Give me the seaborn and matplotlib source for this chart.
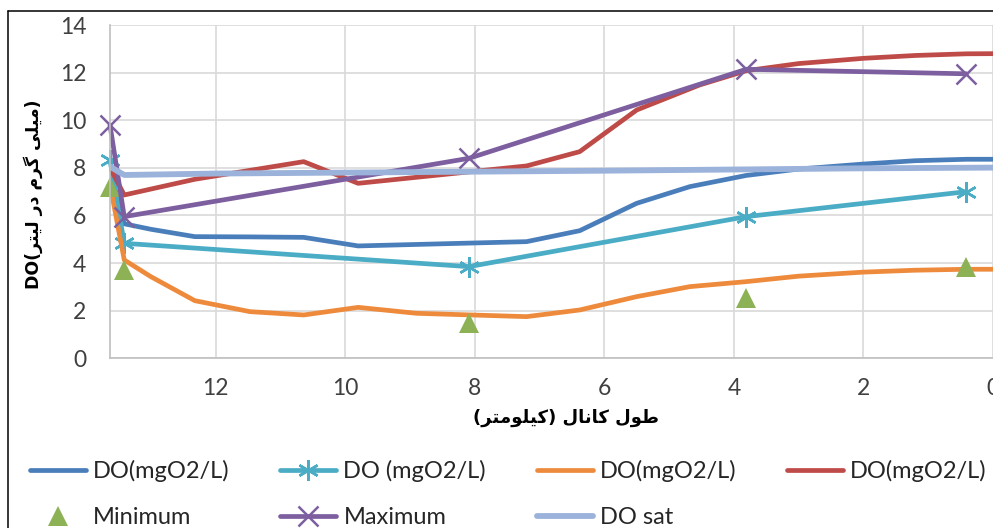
import matplotlib
matplotlib.use("Agg")
import matplotlib.pyplot as plt
from matplotlib.lines import Line2D
import seaborn as sns

# ---- data: distance along the canal (km) and dissolved oxygen (mg O2/L) ----
blue_km = [13.63, 13.41, 13.0, 12.32, 11.47, 10.64, 9.80, 7.20, 6.38, 5.50, 4.68, 3.81, 3.0, 2.0, 1.2, 0.41, -0.3]
blue_do = [7.9, 5.65, 5.42, 5.11, 5.10, 5.08, 4.72, 4.90, 5.36, 6.51, 7.21, 7.68, 7.95, 8.16, 8.30, 8.36, 8.36]

cyan_km = [13.63, 13.41, 8.09, 3.81, 0.41]
cyan_do = [8.33, 4.83, 3.85, 5.95, 7.00]

orange_km = [13.63, 13.41, 13.0, 12.32, 11.47, 10.64, 9.80, 8.9, 7.20, 6.38, 5.50, 4.68, 3.81, 3.0, 2.0, 1.2, 0.41, -0.3]
orange_do = [7.3, 4.13, 3.43, 2.42, 1.96, 1.82, 2.14, 1.89, 1.75, 2.03, 2.59, 3.01, 3.22, 3.45, 3.62, 3.70, 3.74, 3.74]

red_km = [13.63, 13.41, 12.32, 10.64, 9.80, 7.20, 6.38, 5.50, 4.53, 3.81, 3.0, 2.0, 1.2, 0.41, -0.3]
red_do = [8.0, 6.86, 7.52, 8.26, 7.35, 8.08, 8.68, 10.43, 11.48, 12.08, 12.38, 12.60, 12.72, 12.79, 12.80]

min_km = [13.63, 13.41, 8.09, 3.81, 0.41]
min_do = [7.2, 3.7, 1.5, 2.55, 3.83]

max_km = [13.63, 13.41, 8.09, 3.81, 0.41]
max_do = [9.8, 5.95, 8.40, 12.14, 11.95]

sat_km = [13.63, 13.41, 12.0, 10.0, 8.0, 6.0, 4.0, 2.0, 0.0, -0.3]
sat_do = [8.05, 7.70, 7.76, 7.80, 7.84, 7.88, 7.93, 7.98, 8.01, 8.02]

series_labels = ["DO(mgO2/L)", "DO (mgO2/L)", "DO(mgO2/L)", "DO(mgO2/L)",
                 "Minimum", "Maximum", "DO sat"]
x_ticks = [12, 10, 8, 6, 4, 2, 0]
y_ticks = [0, 2, 4, 6, 8, 10, 12, 14]


# ---- simple Persian shaping (contextual forms + visual order) ----
FORMS = {
    "ط": ("\uFEC1", "\uFEC2", "\uFEC3", "\uFEC4"),
    "و": ("\uFEED", "\uFEEE", None, None),
    "ل": ("\uFEDD", "\uFEDE", "\uFEDF", "\uFEE0"),
    "ک": ("\uFB8E", "\uFB8F", "\uFB90", "\uFB91"),
    "ا": ("\uFE8D", "\uFE8E", None, None),
    "ن": ("\uFEE5", "\uFEE6", "\uFEE7", "\uFEE8"),
    "ی": ("\uFBFC", "\uFBFD", "\uFBFE", "\uFBFF"),
    "م": ("\uFEE1", "\uFEE2", "\uFEE3", "\uFEE4"),
    "ت": ("\uFE95", "\uFE96", "\uFE97", "\uFE98"),
    "ر": ("\uFEAD", "\uFEAE", None, None),
    "گ": ("\uFB92", "\uFB93", "\uFB94", "\uFB95"),
    "د": ("\uFEA9", "\uFEAA", None, None),
}


def shape_fa(text):
    out = []
    for i, ch in enumerate(text):
        if ch not in FORMS:
            out.append(ch)
            continue
        prev = text[i - 1] if i > 0 else None
        nxt = text[i + 1] if i + 1 < len(text) else None
        jp = prev in FORMS and FORMS[prev][2] is not None
        jn = nxt in FORMS and FORMS[ch][2] is not None
        iso, fin, ini, med = FORMS[ch]
        if jp and jn:
            out.append(med)
        elif jp:
            out.append(fin)
        elif jn:
            out.append(ini)
        else:
            out.append(iso)
    vis = "".join(reversed(out))
    return vis.translate(str.maketrans("()", ")("))


xlabel_text = shape_fa("طول کانال (کیلومتر)")
ylabel_text = "DO(" + shape_fa("میلی گرم در لیتر") + ")"

# ---- styling ----
sns.set_theme(style="white")
plt.rcParams["font.family"] = ["Lato", "DejaVu Sans"]

C_BLUE = "#4A7EBB"
C_CYAN = "#4BACC6"
C_ORANGE = "#EE8A3C"
C_RED = "#BE4B48"
C_GREEN = "#8DB255"
C_PURPLE = "#7D5FA0"
C_SAT = "#9BB3DA"

fig = plt.figure(figsize=(9.93, 5.28), dpi=100)
ax = fig.add_axes([110 / 993, 1 - 358.3 / 528, 883 / 993, 333.3 / 528])

LW = 3.4
sns.lineplot(x=blue_km, y=blue_do, ax=ax, color=C_BLUE, lw=LW, sort=False,
             estimator=None, label=series_labels[0])
sns.lineplot(x=cyan_km, y=cyan_do, ax=ax, color=C_CYAN, lw=LW, sort=False,
             estimator=None, marker=(6, 2, 0), markersize=15, markeredgewidth=1.8,
             markeredgecolor=C_CYAN, clip_on=False, label=series_labels[1])
sns.lineplot(x=orange_km, y=orange_do, ax=ax, color=C_ORANGE, lw=LW, sort=False,
             estimator=None, label=series_labels[2])
sns.lineplot(x=red_km, y=red_do, ax=ax, color=C_RED, lw=LW, sort=False,
             estimator=None, label=series_labels[3])
sns.lineplot(x=min_km, y=min_do, ax=ax, color=C_GREEN, linestyle="", sort=False,
             estimator=None, marker="^", markersize=15, markeredgewidth=0,
             clip_on=False, label=series_labels[4])
sns.lineplot(x=max_km, y=max_do, ax=ax, color=C_PURPLE, lw=LW, sort=False,
             estimator=None, marker="x", markersize=15, markeredgewidth=1.8,
             markeredgecolor=C_PURPLE, clip_on=False, label=series_labels[5])
sns.lineplot(x=sat_km, y=sat_do, ax=ax, color=C_SAT, lw=4.2, sort=False,
             estimator=None, label=series_labels[6])

ax.set_xlim(13.63, 0)
ax.set_ylim(0, 14)
ax.set_xticks(x_ticks)
ax.set_yticks(y_ticks)
ax.set_xticklabels([str(v) for v in x_ticks])
ax.set_yticklabels([str(v) for v in y_ticks])
ax.tick_params(axis="y", length=0, pad=17, labelsize=16.5, labelcolor="#404040")
ax.tick_params(axis="x", length=0, pad=14, labelsize=16.5, labelcolor="#404040")

ax.grid(True, color="#D9D9D9", lw=1.2)
ax.set_axisbelow(True)
for side in ("top", "right"):
    ax.spines[side].set_visible(False)
for side in ("left", "bottom"):
    ax.spines[side].set_color("#BFBFBF")
    ax.spines[side].set_linewidth(1.2)

ax.set_xlabel(xlabel_text, fontsize=13, fontweight="bold",
              family=["DejaVu Sans"], color="black", va="center", ha="center")
ax.xaxis.set_label_coords((566 - 110) / 883, (358.3 - 418) / 333.3)
ax.set_ylabel(ylabel_text, fontsize=12.5, fontweight="bold",
              family=["DejaVu Sans"], color="black", va="center", ha="center")
ax.yaxis.set_label_coords((33 - 110) / 883, (358.3 - 194) / 333.3)

# legend: column-major order so rows read DO, DO, DO, DO / Min, Max, sat
handles, labels = ax.get_legend_handles_labels()
ax.get_legend().remove()
order = [0, 4, 1, 5, 2, 6, 3]
fig.legend([handles[i] for i in order], [labels[i] for i in order],
           ncol=4, loc="upper left", bbox_to_anchor=(30 / 993, 1 - 460 / 528),
           frameon=False, fontsize=17, handlelength=2.37, handletextpad=0.3,
           columnspacing=2.15, labelspacing=1.07, borderaxespad=0, borderpad=0)

# outer chart frame (left and top edges)
fig.add_artist(Line2D([7.5 / 993, 7.5 / 993], [0, 1 - 10.5 / 528],
                      transform=fig.transFigure, color="black", lw=1.1))
fig.add_artist(Line2D([7.5 / 993, 1], [1 - 10.5 / 528, 1 - 10.5 / 528],
                      transform=fig.transFigure, color="black", lw=1.1))

fig.savefig("out.png", dpi=100)
